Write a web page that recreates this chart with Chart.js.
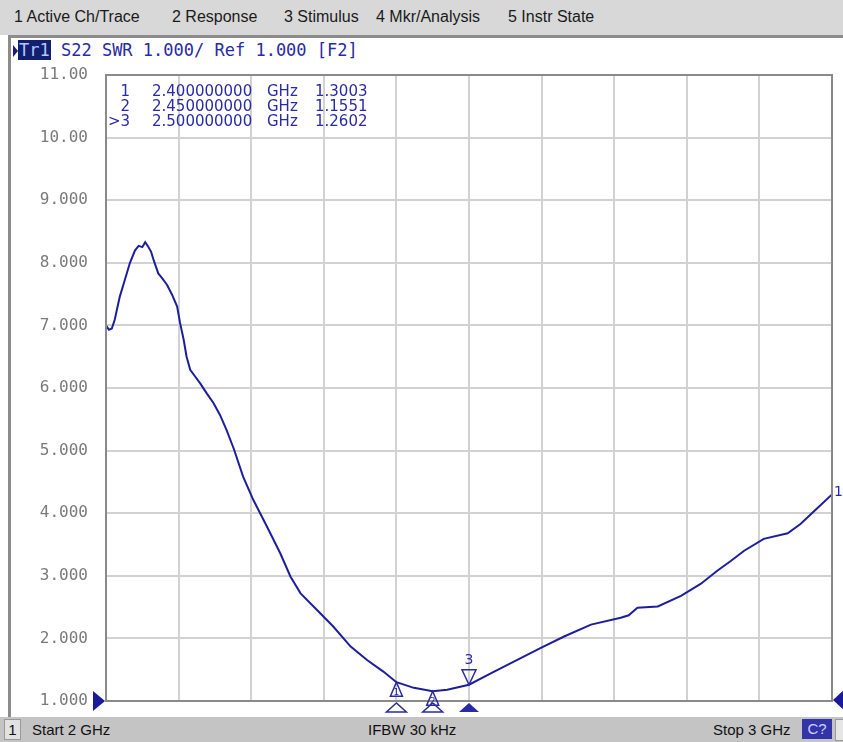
<!DOCTYPE html>
<html>
<head>
<meta charset="utf-8">
<title>S22 SWR</title>
<script src="https://cdn.jsdelivr.net/npm/chart.js@4.4.1/dist/chart.umd.min.js"></script>
<style>
  body { margin: 0; width: 843px; height: 742px; position: relative; overflow: hidden; background: #fff; font-family: "Liberation Sans", Arial, sans-serif; }
  #menu { position: absolute; left: 0; top: 0; width: 843px; height: 35px; background: #d8d8d8; }
  #menu span { position: absolute; top: 8px; font-size: 16px; color: #1a1a1a; white-space: nowrap; }
  #frame-top { position: absolute; left: 8px; top: 35px; width: 835px; height: 3px; background: #8c8c8c; }
  #frame-left { position: absolute; left: 8px; top: 35px; width: 3px; height: 683px; background: #8c8c8c; }
  #header { position: absolute; left: 13px; top: 40px; font-family: "DejaVu Sans Mono", monospace; font-size: 17px; color: #2a2aa6; white-space: nowrap; }
  #header .arrow { display: inline-block; width: 0; height: 0; border-top: 6px solid transparent; border-bottom: 6px solid transparent; border-left: 5px solid #1a1a8c; vertical-align: -1px; }
  #header .tr { background: #10206e; color: #b8c4ff; padding: 0 1px; }
  #footer { position: absolute; left: 0; top: 717px; width: 843px; height: 25px; background: #c4c4c4; font-size: 15px; color: #111; }
  #footer span { position: absolute; top: 4px; white-space: nowrap; }
  #footer .ch { left: 4px; top: 2px; width: 15px; height: 19px; background: #e2e2e2; border: 1px solid #999; text-align: center; line-height: 19px; }
  #footer .cq { left: 802px; top: 2px; width: 30px; height: 20px; background: #3434a8; color: #c8d2ff; text-align: center; line-height: 20px; }
  #footer .end { left: 835px; top: 2px; width: 10px; height: 20px; background: #e6e6e6; border: 1px solid #999; }
  #wrap { position: absolute; left: 0; top: 0; width: 843px; height: 742px; }
</style>
</head>
<body>
<div id="menu">
  <span style="left:14px">1 Active Ch/Trace</span>
  <span style="left:172px">2 Response</span>
  <span style="left:284px">3 Stimulus</span>
  <span style="left:376px">4 Mkr/Analysis</span>
  <span style="left:508px">5 Instr State</span>
</div>
<div id="frame-top"></div>
<div id="frame-left"></div>
<div id="header"><span class="arrow"></span><span class="tr">Tr1</span> S22 SWR 1.000/ Ref 1.000 [F2]</div>
<div id="footer">
  <span class="ch">1</span>
  <span style="left:32px">Start 2 GHz</span>
  <span style="left:368px">IFBW 30 kHz</span>
  <span style="left:713px">Stop 3 GHz</span>
  <span class="cq">C?</span>
  <span class="end"></span>
</div>
<div id="wrap"><canvas id="chart" width="843" height="742"></canvas></div>
<script>
// trace data (GHz / SWR)
const freqGHz = [2.000, 2.004, 2.008, 2.012, 2.019, 2.026, 2.033, 2.040, 2.045, 2.050,
  2.054, 2.058, 2.062, 2.066, 2.072, 2.077, 2.084, 2.091, 2.098, 2.102,
  2.107, 2.111, 2.116, 2.123, 2.130, 2.139, 2.148, 2.157, 2.166, 2.176,
  2.189, 2.203, 2.222, 2.240, 2.254, 2.268, 2.291, 2.313, 2.337, 2.360,
  2.382, 2.400, 2.424, 2.450, 2.470, 2.500, 2.530, 2.557, 2.599, 2.631,
  2.668, 2.709, 2.720, 2.732, 2.760, 2.792, 2.819, 2.842, 2.861, 2.879,
  2.906, 2.939, 2.957, 2.976, 3.000];
const swr = [7.00, 6.93, 6.95, 7.09, 7.46, 7.73, 8.00, 8.20, 8.27, 8.25,
  8.33, 8.26, 8.18, 8.03, 7.83, 7.76, 7.65, 7.49, 7.30, 7.04,
  6.77, 6.50, 6.29, 6.18, 6.07, 5.91, 5.76, 5.57, 5.33, 5.03,
  4.58, 4.21, 3.78, 3.36, 2.99, 2.72, 2.45, 2.19, 1.87, 1.65,
  1.47, 1.30, 1.21, 1.155, 1.18, 1.26, 1.44, 1.60, 1.85, 2.03,
  2.22, 2.33, 2.37, 2.49, 2.51, 2.68, 2.87, 3.08, 3.24, 3.40,
  3.59, 3.68, 3.83, 4.04, 4.30];

// markers
const markerIds = ['1', '2', '3'];
const markerFreqs = [2.40, 2.45, 2.50];
const markerVals = [1.3003, 1.1551, 1.2602];
const activeMarker = 2;

// axis settings
const xMin = 2, xMax = 3, xStep = 0.1;
const yMin = 1, yMax = 11, yStep = 1;

const BLUE = '#2a2aa6';

const overlayPlugin = {
    id: 'vnaOverlay',
    afterDraw(chart) {
        const ctx = chart.ctx;
        const a = chart.chartArea;
        const xs = chart.scales.x, ys = chart.scales.y;
        ctx.save();
        // plot frame
        ctx.strokeStyle = '#8a8a8a';
        ctx.lineWidth = 2;
        ctx.strokeRect(a.left, a.top, a.right - a.left, a.bottom - a.top);

        // marker table
        ctx.fillStyle = BLUE;
        ctx.font = '15px "DejaVu Sans", Verdana, sans-serif';
        ctx.textBaseline = 'middle';
        markerIds.forEach((id, i) => {
            const y = 92 + i * 15;
            const lab = (i === activeMarker ? '>' : '') + id;
            ctx.textAlign = 'right';
            ctx.fillText(lab, 130, y);
            ctx.textAlign = 'left';
            ctx.fillText(markerFreqs[i].toFixed(9), 152, y);
            ctx.fillText('GHz', 267, y);
            ctx.fillText(markerVals[i].toFixed(4), 315, y);
        });

        // markers on trace
        ctx.strokeStyle = BLUE;
        ctx.lineWidth = 1.5;
        ctx.textAlign = 'center';
        markerIds.forEach((id, i) => {
            const px = xs.getPixelForValue(markerFreqs[i]);
            const py = ys.getPixelForValue(markerVals[i]);
            ctx.beginPath();
            if (i === activeMarker) {
                ctx.moveTo(px, py);
                ctx.lineTo(px - 7, py - 15);
                ctx.lineTo(px + 7, py - 15);
                ctx.closePath();
                ctx.stroke();
                ctx.font = '14px "DejaVu Sans", sans-serif';
                ctx.fillText(id, px, py - 24);
            } else {
                ctx.moveTo(px, py);
                ctx.lineTo(px - 6, py + 14);
                ctx.lineTo(px + 6, py + 14);
                ctx.closePath();
                ctx.stroke();
                ctx.font = '9px "DejaVu Sans", sans-serif';
                ctx.fillText(id, px, py + 10);
            }
            // stimulus markers under the axis
            const by = a.bottom + 11;
            ctx.beginPath();
            ctx.moveTo(px, by - 9);
            ctx.lineTo(px - 10, by);
            ctx.lineTo(px + 10, by);
            ctx.closePath();
            if (i === activeMarker) {
                ctx.fillStyle = BLUE;
                ctx.fill();
            } else {
                ctx.stroke();
            }
        });

        // reference level arrows
        const ry = ys.getPixelForValue(1);
        ctx.fillStyle = '#1a1a9a';
        ctx.beginPath();
        ctx.moveTo(a.left - 1, ry);
        ctx.lineTo(a.left - 13, ry - 10);
        ctx.lineTo(a.left - 13, ry + 10);
        ctx.closePath();
        ctx.fill();
        ctx.beginPath();
        ctx.moveTo(a.right + 1, ry - 1);
        ctx.lineTo(a.right + 14, ry - 13);
        ctx.lineTo(a.right + 14, ry + 11);
        ctx.closePath();
        ctx.fill();

        // trace number at the end of the trace
        ctx.fillStyle = BLUE;
        ctx.font = '14px "DejaVu Sans", sans-serif';
        ctx.textAlign = 'left';
        ctx.fillText('1', a.right + 2, ys.getPixelForValue(swr[swr.length - 1]) - 2);
        ctx.restore();
    }
};

const ctx = document.getElementById('chart').getContext('2d');
new Chart(ctx, {
    type: 'line',
    data: {
        datasets: [{
            data: freqGHz.map((f, i) => ({ x: f, y: swr[i] })),
            borderColor: '#1e1e9c',
            borderWidth: 2,
            pointRadius: 0,
            tension: 0,
            fill: false
        }]
    },
    options: {
        responsive: false,
        animation: false,
        layout: { padding: { top: 75, right: 11, bottom: 41, left: 0 } },
        plugins: { legend: { display: false }, tooltip: { enabled: false } },
        scales: {
            x: {
                type: 'linear',
                min: xMin, max: xMax,
                ticks: { stepSize: xStep, display: false },
                grid: { color: '#d2d2d2', lineWidth: 2, drawTicks: false },
                border: { display: false },
                afterFit: (s) => { s.height = 0; }
            },
            y: {
                min: yMin, max: yMax,
                ticks: {
                    stepSize: yStep,
                    padding: 18,
                    color: '#7a7a7a',
                    font: { family: '"DejaVu Sans Mono", monospace', size: 16 },
                    callback: (v) => v >= 10 ? v.toFixed(2) : v.toFixed(3)
                },
                grid: { color: '#d2d2d2', lineWidth: 2, drawTicks: false },
                border: { display: false },
                afterFit: (s) => { s.width = 106; }
            }
        }
    },
    plugins: [overlayPlugin]
});
</script>
</body>
</html>
